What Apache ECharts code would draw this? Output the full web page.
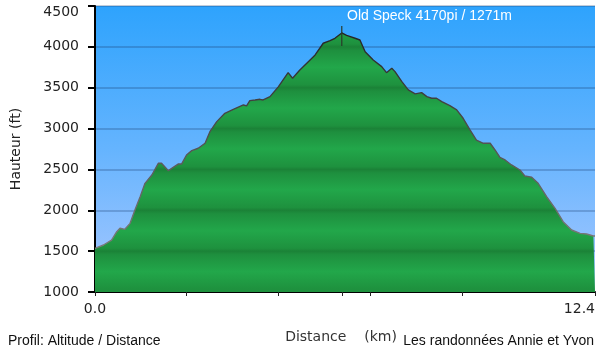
<!DOCTYPE html>
<html>
<head>
<meta charset="utf-8">
<title>Old Speck</title>
<script src="https://cdn.jsdelivr.net/npm/echarts@6/dist/echarts.min.js"></script>
<style>
  html, body { margin: 0; padding: 0; background: #fff; }
  #chart { width: 600px; height: 354px; }
</style>
</head>
<body>
<div id="chart"></div>
<script>
// distance (km) and altitude (ft)
var distance = [0.00, 0.21, 0.41, 0.54, 0.62, 0.74, 0.87, 0.99, 1.12, 1.24, 1.41, 1.57, 1.65, 1.82, 1.94, 2.07, 2.15, 2.27, 2.40, 2.56, 2.73, 2.85, 3.02, 3.22, 3.43, 3.68, 3.76, 3.84, 3.97, 4.09, 4.17, 4.34, 4.55, 4.79, 4.90, 5.08, 5.29, 5.46, 5.66, 5.83, 5.95, 6.12, 6.24, 6.45, 6.57, 6.70, 6.90, 7.11, 7.23, 7.36, 7.44, 7.61, 7.77, 7.94, 8.10, 8.23, 8.35, 8.47, 8.60, 8.80, 8.97, 9.13, 9.30, 9.46, 9.63, 9.80, 9.92, 10.04, 10.17, 10.33, 10.54, 10.66, 10.83, 10.99, 11.20, 11.41, 11.61, 11.82, 12.03, 12.19, 12.36, 12.40]
var altitude = [1535, 1575, 1636, 1738, 1780, 1767, 1840, 2004, 2166, 2330, 2432, 2575, 2575, 2485, 2526, 2567, 2567, 2677, 2730, 2759, 2820, 2962, 3085, 3187, 3236, 3289, 3277, 3342, 3350, 3358, 3350, 3391, 3513, 3684, 3616, 3717, 3819, 3901, 4044, 4076, 4105, 4170, 4140, 4105, 4084, 3941, 3840, 3758, 3684, 3738, 3697, 3574, 3473, 3424, 3440, 3391, 3371, 3371, 3330, 3280, 3228, 3126, 2983, 2860, 2820, 2820, 2738, 2649, 2616, 2555, 2493, 2420, 2404, 2330, 2166, 2024, 1860, 1759, 1718, 1710, 1685, 1685]

var xLabels = [0, 12.4]
var xTicks = [0, 2.27, 4.55, 6.12, 6.83, 9.1, 12.4]

var chart = echarts.init(document.getElementById('chart'))

var gridTop = 6
var gridBottom = 292

// green fill, a bit darker near every 500 ft line
var bands = 7
var greenStops = []
for (var k = 0; k < bands; k++) {
  greenStops.push({ offset: k / bands, color: '#1b8237' })
  greenStops.push({ offset: k / bands + 0.012, color: '#1e8f3e' })
  greenStops.push({ offset: (k + 0.5) / bands, color: '#22a74a' })
  greenStops.push({ offset: (k + 1) / bands - 0.01, color: '#1e913e' })
}

var points = distance.map(function(d, i) { return [d, altitude[i]] })

var option = {
  animation: false,
  title: [
    {
      text: 'Old Speck 4170pi / 1271m',
      left: 347, top: 9, padding: 0,
      textStyle: { color: '#fff', fontSize: 14, fontWeight: 'normal', fontFamily: 'Liberation Sans' }
    },
    {
      text: 'Profil: Altitude / Distance',
      left: 8, top: 334, padding: 0,
      textStyle: { color: '#111', fontSize: 14, fontWeight: 'normal', fontFamily: 'Liberation Sans' }
    },
    {
      text: 'Les randonnées Annie et Yvon',
      right: 6, top: 334, padding: 0,
      textStyle: { color: '#111', fontSize: 14, fontWeight: 'normal', fontFamily: 'Liberation Sans' }
    }
  ],
  grid: {
    left: 95, right: 5, top: gridTop, bottom: 354 - gridBottom,
    show: true, borderWidth: 0,
    backgroundColor: {
      type: 'linear', x: 0, y: 0, x2: 0, y2: 1,
      colorStops: [
        { offset: 0, color: '#2ea3fd' },
        { offset: 0.5, color: '#65b4fe' },
        { offset: 1, color: '#a9c8ff' }
      ]
    }
  },
  xAxis: {
    type: 'value',
    min: 0, max: 12.4,
    name: 'Distance    (km)',
    nameLocation: 'middle',
    nameGap: 38,
    nameTextStyle: { color: '#333', fontSize: 14, fontFamily: 'DejaVu Sans', padding: [0, 8, 0, 0] },
    axisLine: { lineStyle: { color: '#000', width: 2 } },
    axisTick: { show: true, length: 4, customValues: xTicks, lineStyle: { color: '#222', width: 1 } },
    axisLabel: {
      customValues: xLabels,
      margin: 10,
      color: '#222', fontSize: 14, fontFamily: 'DejaVu Sans',
      alignMinLabel: 'center', alignMaxLabel: 'right',
      formatter: function(v) { return v.toFixed(1) }
    },
    splitLine: { show: false }
  },
  yAxis: {
    type: 'value',
    min: 1000, max: 4500, interval: 500,
    name: 'Hauteur (ft)',
    nameLocation: 'middle',
    nameGap: 72,
    nameTextStyle: { color: '#222', fontSize: 14, fontFamily: 'DejaVu Sans' },
    axisLine: { show: true, lineStyle: { color: '#000', width: 2 } },
    axisTick: { show: true, length: 7, lineStyle: { color: '#000', width: 2 } },
    axisLabel: {
      margin: 16,
      color: '#222', fontSize: 14, fontFamily: 'DejaVu Sans',
      formatter: function(v) { return v === 4500 ? '{top|' + v + '}' : String(v) },
      rich: {
        top: { padding: [13, 0, 0, 0], color: '#222', fontSize: 14, fontFamily: 'DejaVu Sans' }
      }
    },
    splitLine: { show: true, lineStyle: { color: 'rgba(25,60,110,0.35)', width: 1.5 } }
  },
  series: [
    {
      type: 'line',
      data: points,
      symbol: 'none',
      lineStyle: {
        width: 1.4,
        color: {
          type: 'linear', x: 0, y: gridTop, x2: 0, y2: gridBottom, global: true,
          colorStops: [
            { offset: 0, color: '#1a1a1a' },
            { offset: 0.5, color: '#555' },
            { offset: 1, color: '#8c8c8c' }
          ]
        }
      },
      areaStyle: {
        opacity: 1,
        origin: 'start',
        color: {
          type: 'linear', x: 0, y: gridTop, x2: 0, y2: gridBottom, global: true,
          colorStops: greenStops
        }
      },
      markPoint: {
        symbol: 'rect',
        symbolSize: [1.2, 20],
        symbolOffset: [0, 3],
        itemStyle: { color: '#2a3a2a' },
        label: { show: false },
        data: [{ type: 'max' }]
      }
    }
  ]
}

chart.setOption(option)
</script>
</body>
</html>
